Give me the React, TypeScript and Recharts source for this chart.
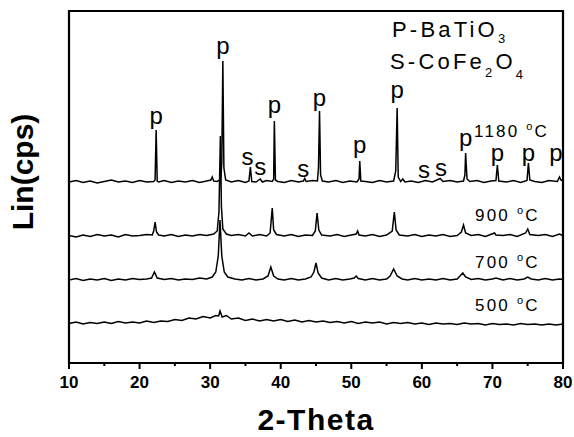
import { LineChart, Line, XAxis, YAxis, ReferenceDot, ReferenceArea } from 'recharts';

// XRD scans, [2-theta, counts above each scan's own baseline]
const scan1180: [number, number][] = [
    [10, 10], [11, 25], [12, 5], [13, 20], [14, 0], [15, 15], [16, 30], [17, 10], [18, 20], [19, 5],
    [20, 25], [21, 10], [22.0, 15], [22.2, 30], [22.35, 530], [22.5, 20], [22.7, 10], [23.5, 25],
    [24.5, 5], [25.5, 20], [26.5, 10], [27.5, 25], [28.5, 5], [29.5, 20], [30.1, 30], [30.3, 60],
    [30.5, 20], [31.0, 15], [31.5, 40], [31.65, 200], [31.8, 1220], [31.95, 150], [32.2, 30], [33, 10],
    [34, 25], [35, 5], [35.5, 20], [35.7, 160], [35.9, 15], [36.5, 10], [37.1, 40], [37.4, 10],
    [38, 25], [38.8, 15], [39.0, 40], [39.1, 620], [39.25, 30], [39.6, 15], [40.5, 5], [41.5, 25],
    [42.5, 10], [43.2, 20], [43.4, 45], [43.6, 15], [44.5, 25], [45.2, 20], [45.35, 150], [45.5, 720],
    [45.65, 80], [45.9, 20], [46.8, 10], [47.8, 25], [48.8, 5], [49.8, 20], [50.8, 10], [51.1, 40],
    [51.2, 220], [51.35, 20], [52, 15], [53, 5], [54, 25], [55, 10], [56.0, 20], [56.3, 120],
    [56.5, 750], [56.65, 60], [57.0, 15], [57.3, 40], [57.6, 10], [58.5, 20], [59.5, 5], [60.5, 25],
    [61.5, 10], [62.6, 45], [63, 15], [64, 25], [65, 10], [65.9, 20], [66.1, 80], [66.2, 300],
    [66.4, 40], [66.8, 15], [67.8, 25], [68.8, 5], [69.8, 20], [70.5, 25], [70.7, 180], [70.9, 20],
    [72, 10], [73, 25], [74, 5], [74.9, 25], [75.1, 200], [75.3, 30], [76, 15], [77, 5], [78, 25],
    [79.2, 15], [79.5, 60], [79.7, 30], [80, 20],
];

const scan900: [number, number][] = [
    [10, 15], [11, 0], [12, 20], [13, 5], [14, 25], [15, 10], [16, 20], [17, 0], [18, 25], [19, 10],
    [20, 15], [21, 25], [21.8, 20], [22.0, 60], [22.2, 150], [22.4, 50], [22.7, 20], [23.5, 10],
    [24.5, 25], [25.5, 5], [26.5, 20], [27.5, 10], [28.5, 25], [29.5, 15], [30.5, 30], [31.0, 60],
    [31.25, 250], [31.45, 1010], [31.6, 300], [31.8, 80], [32.3, 30], [33, 15], [34, 25], [35, 10],
    [35.5, 40], [36, 10], [37, 25], [38, 10], [38.5, 40], [38.8, 290], [39.0, 70], [39.4, 25],
    [40.5, 10], [41.5, 25], [42.5, 5], [43.5, 20], [44.5, 15], [44.9, 60], [45.15, 240], [45.4, 70],
    [45.8, 20], [47, 10], [48, 25], [49, 5], [50, 20], [50.7, 30], [50.9, 60], [51.1, 20], [52, 10],
    [53, 25], [54, 5], [55, 20], [55.8, 60], [56.1, 250], [56.35, 70], [56.8, 20], [58, 10], [59, 25],
    [60, 5], [61, 20], [62, 10], [63, 25], [64, 5], [65, 15], [65.6, 50], [65.9, 120], [66.2, 40],
    [67, 15], [68, 25], [69, 5], [70.3, 40], [70.5, 20], [71.5, 15], [72.5, 25], [73.5, 5],
    [74.7, 40], [75, 80], [75.3, 25], [76.5, 15], [77.5, 25], [78.5, 5], [79.5, 30], [80, 15],
];

const scan700: [number, number][] = [
    [10, 10], [11, 25], [12, 5], [13, 20], [14, 10], [15, 25], [16, 5], [17, 20], [18, 10], [19, 25],
    [20, 15], [21, 20], [21.7, 30], [22.1, 90], [22.5, 30], [23.5, 15], [24.5, 25], [25.5, 10],
    [26.5, 20], [27.5, 15], [28.5, 30], [29.5, 20], [30.3, 40], [30.8, 90], [31.15, 250], [31.4, 610],
    [31.65, 250], [32, 90], [32.5, 40], [33.5, 20], [34.5, 10], [35.5, 25], [36.5, 10], [37.5, 20],
    [38.2, 50], [38.6, 140], [39.0, 50], [39.6, 20], [40.5, 10], [41.5, 25], [42.5, 10], [43.5, 20],
    [44.3, 40], [44.7, 90], [45.0, 180], [45.3, 80], [45.8, 30], [46.8, 10], [47.8, 25], [48.8, 10],
    [49.8, 20], [50.4, 30], [50.7, 50], [51.0, 25], [52, 10], [53, 25], [54, 10], [55, 20], [55.5, 50],
    [56.0, 120], [56.5, 50], [57.2, 20], [58, 10], [59, 25], [60, 10], [61, 20], [62, 10], [63, 25],
    [64, 10], [65, 20], [65.4, 50], [65.8, 80], [66.2, 40], [67, 15], [68, 25], [69, 10], [70, 20],
    [70.5, 30], [71.5, 10], [72.5, 25], [73.5, 10], [74.5, 20], [75, 40], [75.5, 20], [76.5, 10],
    [77.5, 25], [78.5, 10], [79.5, 20], [80, 15],
];

const scan500: [number, number][] = [
    [10, 15], [11, 30], [12, 10], [13, 25], [14, 15], [15, 30], [16, 15], [17, 35], [18, 20], [19, 30],
    [20, 20], [21, 40], [22, 25], [23, 40], [24, 35], [25, 55], [26, 45], [27, 70], [28, 60], [29, 85],
    [30, 70], [30.8, 95], [31.2, 90], [31.4, 140], [31.7, 80], [32.3, 95], [33, 60], [34, 70], [35, 45],
    [36, 60], [37, 40], [38, 55], [39, 40], [40, 55], [41, 35], [42, 50], [43, 30], [44, 45], [45, 30],
    [46, 40], [47, 25], [48, 35], [49, 20], [50, 35], [51, 15], [52, 30], [53, 20], [54, 30], [55, 10],
    [56, 25], [57, 15], [58, 25], [59, 10], [60, 20], [61, 5], [62, 20], [63, 10], [64, 15], [65, 5],
    [66, 20], [67, 10], [68, 15], [69, 0], [70, 15], [71, 5], [72, 10], [73, 0], [74, 15], [75, 5],
    [76, 10], [77, 0], [78, 10], [79, 0], [80, 10],
];

// phase marks over the 1180 C scan: [2-theta, letter, text baseline in counts]
const phaseMarks: [number, string, number][] = [
    [22.35, 'p', 2390], [31.8, 'p', 3090], [35.3, 's', 1980], [37.1, 's', 1880], [39.1, 'p', 2505],
    [43.2, 's', 1860], [45.5, 'p', 2575], [51.2, 'p', 2105], [56.5, 'p', 2655], [60.3, 's', 1850],
    [62.7, 's', 1870], [66.2, 'p', 2175], [70.7, 'p', 2020], [75.1, 'p', 2020], [79.0, 'p', 2020],
];

const thetaTicks = [10, 15, 20, 25, 30, 35, 40, 45, 50, 55, 60, 65, 70, 75, 80];

const W = 574;
const H = 437;
const FONT = '"Liberation Sans", Arial, sans-serif';

const stacked = [
    { key: '1180', scan: scan1180, offset: 1800 },
    { key: '900', scan: scan900, offset: 1260 },
    { key: '700', scan: scan700, offset: 820 },
    { key: '500', scan: scan500, offset: 380 },
].map((s) => ({ key: s.key, rows: s.scan.map(([t, c]) => ({ t, v: c + s.offset })) }));

function ThetaTick(props: any) {
    const { x, y, payload } = props;
    const major = payload.value % 10 === 0;
    return (
        <g>
            <line x1={x} y1={y} x2={x} y2={y + (major ? 6 : 3)} stroke="#000" strokeWidth={2} />
            {major ? (
                <text x={x} y={y + 25} textAnchor="middle" fontFamily={FONT} fontWeight="bold" fontSize={17}>
                    {payload.value}
                </text>
            ) : null}
        </g>
    );
}

function MarkLabel(props: any) {
    const { viewBox, text } = props;
    return (
        <text x={viewBox.x} y={viewBox.y} textAnchor="middle" fontFamily={FONT} fontSize={24} fill="#000">
            {text}
        </text>
    );
}

function TempLabel({ x, y, t }: { x: number; y: number; t: string }) {
    return (
        <text x={x} y={y} fontFamily={FONT} fontSize={17} letterSpacing={2.2}>
            {t + ' '}
            <tspan dy={-7} fontSize={11}>o</tspan>
            <tspan dy={7}>C</tspan>
        </text>
    );
}

export default function App() {
    return (
        <div style={{ position: 'absolute', left: 0, top: 0, width: W, height: H, background: '#fff' }}>
            <LineChart width={W} height={H} margin={{ top: 11, right: 11, bottom: 14, left: 69 }}>
                <XAxis
                    dataKey="t"
                    type="number"
                    domain={[10, 80]}
                    ticks={thetaTicks}
                    interval={0}
                    height={60}
                    tickLine={false}
                    tickSize={0}
                    tickMargin={0}
                    tick={<ThetaTick />}
                    axisLine={false}
                    allowDataOverflow
                />
                <YAxis type="number" domain={[0, 3520]} width={0} tick={false} tickLine={false} axisLine={false} allowDataOverflow />
                <ReferenceArea
                    x1={10}
                    x2={80}
                    y1={0}
                    y2={3520}
                    fill="none"
                    fillOpacity={0}
                    stroke="#000"
                    strokeWidth={2.2}
                    strokeOpacity={1}
                />
                {stacked.map((s) => (
                    <Line
                        key={s.key}
                        data={s.rows}
                        dataKey="v"
                        type="linear"
                        stroke="#000"
                        strokeWidth={1.5}
                        dot={false}
                        isAnimationActive={false}
                    />
                ))}
                {phaseMarks.map(([t, letter, level], i) => (
                    <ReferenceDot
                        key={i}
                        x={t}
                        y={level}
                        r={0}
                        fill="none"
                        stroke="none"
                        label={<MarkLabel text={letter} />}
                    />
                ))}
            </LineChart>
            <svg width={W} height={H} style={{ position: 'absolute', left: 0, top: 0, pointerEvents: 'none' }}>
                <text x={392} y={37} fontFamily={FONT} fontSize={22} letterSpacing={3.2}>
                    P-BaTiO<tspan dy={6} fontSize={13}>3</tspan>
                </text>
                <text x={390} y={69} fontFamily={FONT} fontSize={22} letterSpacing={3.2}>
                    S-CoFe<tspan dy={8} fontSize={13}>2</tspan>
                    <tspan dy={-8}>O</tspan>
                    <tspan dy={10} fontSize={13}>4</tspan>
                </text>
                <TempLabel x={474} y={137} t="1180" />
                <TempLabel x={475} y={221} t="900" />
                <TempLabel x={475} y={268} t="700" />
                <TempLabel x={475} y={311} t="500" />
                <text
                    transform="translate(33,172) rotate(-90)"
                    textAnchor="middle"
                    fontFamily={FONT}
                    fontWeight="bold"
                    fontSize={30}
                >
                    Lin(cps)
                </text>
                <text x={316} y={430} textAnchor="middle" fontFamily={FONT} fontWeight="bold" fontSize={30} letterSpacing={1.5}>
                    2-Theta
                </text>
            </svg>
        </div>
    );
}
